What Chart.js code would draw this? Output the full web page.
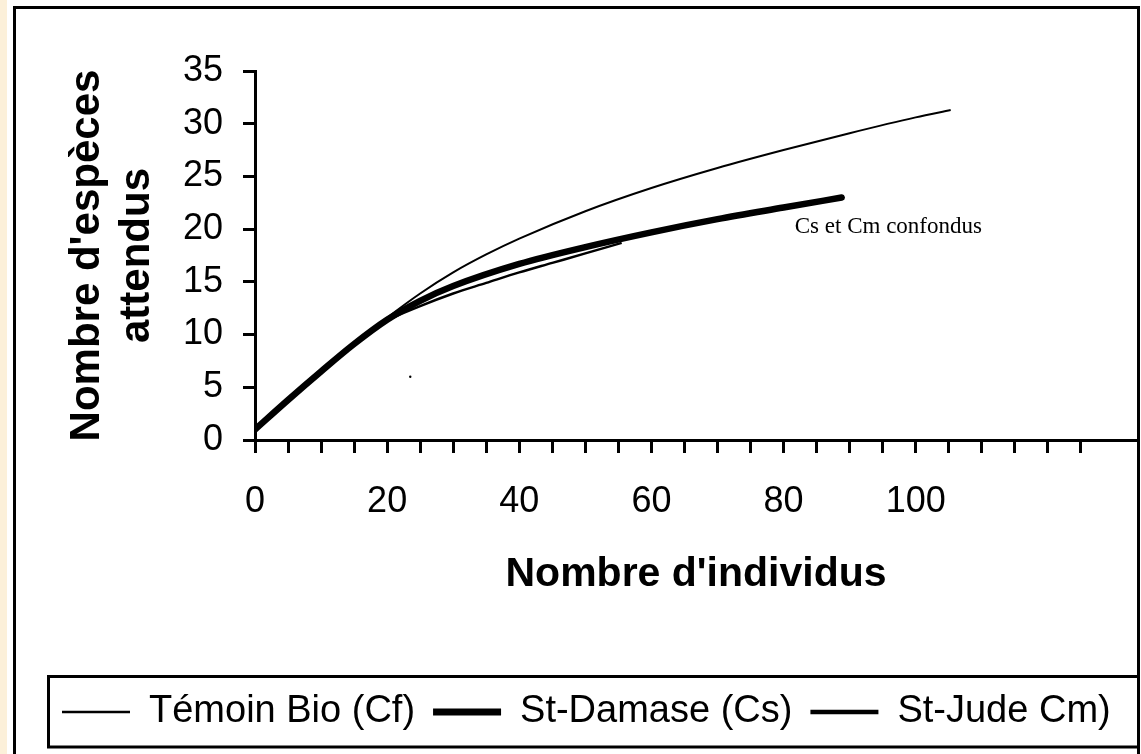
<!DOCTYPE html>
<html><head><meta charset="utf-8">
<script src="https://cdn.jsdelivr.net/npm/chart.js@4.4.1/dist/chart.umd.min.js"></script>
<style>html,body{margin:0;padding:0;background:#fff;overflow:hidden}canvas{display:block}</style>
</head><body>
<canvas id="c" width="1141" height="754"></canvas>
<script>
// ---- data ----
const seriesNames = ['Témoin Bio (Cf)', 'St-Damase (Cs)', 'St-Jude Cm)'];
const cfX = [0, 5, 10, 15, 20, 25, 30, 35, 40, 50, 60, 70, 80, 90, 100, 105.3];
const cfY = [1, 3.8, 6.5, 9.1, 11.6, 13.9, 15.9, 17.6, 19.1, 21.7, 23.9, 25.8, 27.5, 29.1, 30.6, 31.3];
const csX = [0, 5, 10, 15, 20, 25, 30, 40, 50, 60, 70, 80, 88.8];
const csY = [1, 3.8, 6.5, 9.1, 11.4, 13.2, 14.6, 16.7, 18.3, 19.7, 20.95, 22.05, 23.0];
const cmX = [0, 5, 10, 15, 20, 25, 30, 35, 40, 45, 50, 55.5];
const cmY = [1, 3.8, 6.5, 9.1, 11.3, 12.7, 13.9, 14.9, 15.9, 16.8, 17.7, 18.7];
const strayX = [23.5];
const strayY = [6.0];
const xTickLabels = [0, 20, 40, 60, 80, 100];
const yTickValues = [0, 5, 10, 15, 20, 25, 30, 35];
const xTitle = "Nombre d'individus";
const yTitle = ["Nombre d'espèces", "attendus"];
const noteText = "Cs et Cm confondus";
const noteAt = [81.7, 19.65];

const pts = (xs, ys) => xs.map((x, i) => ({x, y: ys[i]}));
const SANS = '"Liberation Sans", Arial, sans-serif';

const framePlugin = {
  id: 'frame',
  beforeDraw(chart) {
    const c = chart.ctx, W = chart.width, H = chart.height;
    c.save();
    c.fillStyle = '#ffffff'; c.fillRect(0, 0, W, H);
    c.fillStyle = '#FCF0D9'; c.fillRect(0, 0, 7, H);
    c.strokeStyle = '#000'; c.lineWidth = 3;
    c.beginPath();
    c.moveTo(14.5, H + 5); c.lineTo(14.5, 7.5); c.lineTo(W - 2.5, 7.5); c.lineTo(W - 2.5, H + 5);
    c.stroke();
    c.restore();
  },
  afterDatasetsDraw(chart) {
    const c = chart.ctx, xs = chart.scales.x, ys = chart.scales.y;
    c.save();
    c.fillStyle = '#000';
    c.font = '23px "Liberation Serif", "Times New Roman", serif';
    c.textBaseline = 'alphabetic'; c.textAlign = 'left';
    c.fillText(noteText, xs.getPixelForValue(noteAt[0]), ys.getPixelForValue(noteAt[1]));
    c.restore();
  },
  afterDraw(chart) {
    const lg = chart.legend, c = chart.ctx;
    if (!lg) return;
    const hb = lg.legendHitBoxes && lg.legendHitBoxes[0];
    const left = (hb ? hb.left : lg.left + lg.options.labels.padding) - 14;
    c.save();
    c.strokeStyle = '#000'; c.lineWidth = 3;
    c.strokeRect(left + 0.5, lg.top + 1.5, chart.width - 2.5 - left - 0.5, lg.bottom + 6 - lg.top - 1.5);
    c.restore();
  }
};

new Chart(document.getElementById('c'), {
  type: 'line',
  data: {
    datasets: [
      {label: seriesNames[0], data: pts(cfX, cfY), borderColor: '#000', borderWidth: 2,
       pointRadius: 0, pointStyle: 'line', pointBorderColor: '#000', pointBorderWidth: 2.5,
       cubicInterpolationMode: 'monotone', fill: false},
      {label: seriesNames[1], data: pts(csX, csY), borderColor: '#000', borderWidth: 6.5,
       pointRadius: 0, pointStyle: 'line', pointBorderColor: '#000', pointBorderWidth: 7,
       cubicInterpolationMode: 'monotone', fill: false, borderCapStyle: 'round'},
      {label: seriesNames[2], data: pts(cmX, cmY), borderColor: '#000', borderWidth: 2.5,
       pointRadius: 0, pointStyle: 'line', pointBorderColor: '#000', pointBorderWidth: 4.5,
       cubicInterpolationMode: 'monotone', fill: false},
      {label: '', type: 'scatter', data: pts(strayX, strayY), showLine: false,
       pointRadius: 1.2, pointBackgroundColor: '#000', pointBorderWidth: 0}
    ]
  },
  options: {
    responsive: false,
    animation: false,
    devicePixelRatio: 1,
    layout: {padding: {left: 44, top: 71, right: 3, bottom: 13}},
    plugins: {
      tooltip: {enabled: false},
      legend: {
        display: true, position: 'bottom', align: 'start',
        labels: {
          usePointStyle: true, pointStyleWidth: 68, boxHeight: 38,
          padding: 18, color: '#000',
          font: {family: SANS, size: 38},
          filter: (item) => item.text !== ''
        }
      }
    },
    scales: {
      x: {
        type: 'linear', min: 0, max: 133.5,
        afterBuildTicks(scale) { scale.ticks = scale.ticks.filter(t => Math.abs(t.value % 5) < 1e-6); },
        afterFit(scale) { scale.height = 235; },
        ticks: {
          stepSize: 5, autoSkip: false, maxRotation: 0, padding: 27, color: '#000',
          font: {family: SANS, size: 36},
          callback: (v) => xTickLabels.includes(v) ? String(v) : ''
        },
        grid: {drawOnChartArea: false, drawTicks: true, tickLength: 13, tickWidth: 3, tickColor: '#000', color: '#000'},
        border: {display: true, color: '#000', width: 3},
        title: {display: true, text: xTitle, color: '#000',
          font: {family: SANS, size: 41, weight: 'bold', lineHeight: 1.2},
          padding: {top: 0, bottom: 76}}
      },
      y: {
        type: 'linear', min: 0, max: 35,
        afterFit(scale) { scale.width = 211; },
        ticks: {
          stepSize: 5, padding: 20, color: '#000',
          font: {family: SANS, size: 36},
          callback: (v) => yTickValues.includes(v) ? String(v) : ''
        },
        grid: {drawOnChartArea: false, drawTicks: true, tickLength: 12, tickWidth: 3, tickColor: '#000', color: '#000'},
        border: {display: true, color: '#000', width: 3},
        title: {display: true, text: yTitle, color: '#000',
          font: {family: SANS, size: 42, weight: 'bold', lineHeight: 1.2},
          padding: {top: 18, bottom: 0}}
      }
    }
  },
  plugins: [framePlugin]
});
</script>
</body></html>
